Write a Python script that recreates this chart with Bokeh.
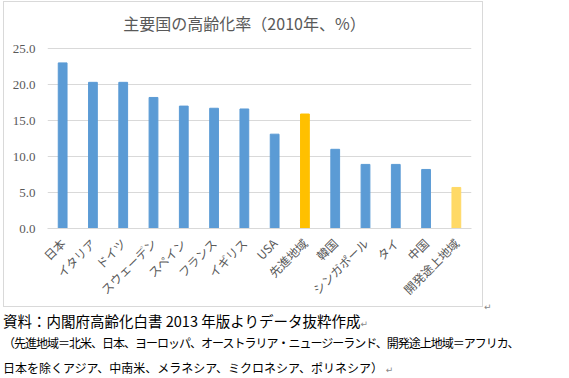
import math
from bokeh.plotting import figure
from bokeh.layouts import column
from bokeh.models import ColumnDataSource, FactorRange, Range1d, FixedTicker, NumeralTickFormatter, Label, Div
from bokeh.embed import file_html
from bokeh.resources import INLINE

categories = ["日本", "イタリア", "ドイツ", "スウェーデン", "スペイン", "フランス", "イギリス",
              "USA", "先進地域", "韓国", "シンガポール", "タイ", "中国", "開発途上地域"]
values = [23.0, 20.3, 20.3, 18.2, 17.0, 16.7, 16.6, 13.1, 15.9, 11.0, 8.9, 8.9, 8.2, 5.7]
colors = ["#5B9BD5"] * 8 + ["#FFC000"] + ["#5B9BD5"] * 4 + ["#FFD966"]
y_ticks = [0, 5, 10, 15, 20, 25]
title_text = "主要国の高齢化率（2010年、%）"
note1 = "資料：内閣府高齢化白書 2013 年版よりデータ抜粋作成"
note2 = "（先進地域＝北米、日本、ヨーロッパ、オーストラリア・ニュージーランド、開発途上地域＝アフリカ、"
note3 = "日本を除くアジア、中南米、メラネシア、ミクロネシア、ポリネシア）"

src = ColumnDataSource(dict(cat=categories, val=values, color=colors))

# ---- chart (framed box 3..483 x 1..307 on the page) ----
CH = 306
BOTTOM = 80
frame_h = CH - BOTTOM            # frame spans the whole top part; 25 units = 180 px
y_end = 25 * frame_h / 180.0
p = figure(width=480, height=CH, output_backend="svg", toolbar_location=None,
           x_range=FactorRange(*categories, range_padding=0), y_range=Range1d(0, y_end),
           min_border_left=43, min_border_right=13, min_border_top=0, min_border_bottom=BOTTOM,
           styles={"border": "1px solid #D9D9D9"})
p.margin = (1, 0, 0, 3)
p.outline_line_color = None
p.background_fill_color = "white"
p.border_fill_color = "white"

p.vbar(x="cat", top="val", width=0.29, color="color", source=src)

p.xgrid.grid_line_color = None
p.ygrid.grid_line_color = "#D9D9D9"
p.ygrid.ticker = FixedTicker(ticks=y_ticks)

p.yaxis.ticker = FixedTicker(ticks=y_ticks)
p.yaxis.formatter = NumeralTickFormatter(format="0.0")
p.yaxis.axis_line_color = None
p.yaxis.major_tick_line_color = None
p.yaxis.minor_tick_line_color = None
p.yaxis.major_label_text_font = "Liberation Serif"
p.yaxis.major_label_text_font_size = "13px"
p.yaxis.major_label_text_color = "#595959"
p.yaxis.major_label_standoff = 6

p.xaxis.axis_line_color = "#D9D9D9"
p.xaxis.major_tick_line_color = None
p.xaxis.minor_tick_line_color = None
p.xaxis.major_label_orientation = math.pi / 4
p.xaxis.major_label_text_font = "Noto Sans CJK JP"
p.xaxis.major_label_text_font_size = "12px"
p.xaxis.major_label_text_color = "#595959"
p.xaxis.major_label_standoff = 6

p.add_layout(Label(x=239, y=19, x_units="canvas", y_units="canvas", text=title_text,
                   text_font="Noto Sans CJK JP", text_font_size="16px", text_color="#595959",
                   text_align="center", text_baseline="middle"))

# ---- notes below the chart ----
def line(left, top, size, lh, text, color="black", font="'Noto Sans CJK JP'", extra=""):
    return (f'<div style="position:absolute;left:{left}px;top:{top}px;font-family:{font};'
            f'font-size:{size}px;line-height:{lh}px;color:{color};white-space:nowrap;margin:0;padding:0;{extra}">'
            f'{text}</div>')

mark = '<span style="font-family:\'DejaVu Sans\';font-size:9px;color:#888888;letter-spacing:0">{}↵</span>'
html = ('<div style="position:relative;width:569px;height:69px;margin:0;padding:0">'
        + line(484, -6, 9, 12, "↵", "#888888", "'DejaVu Sans'")
        + line(3, 5, 14.5, 18, note1 + mark.format(""))
        + line(3, 29, 12, 14, note2, extra="letter-spacing:-1px")
        + line(3, 54, 12, 14, note3 + mark.format(" "))
        + '</div>')
notes = Div(text=html, width=569, height=69)
notes.margin = (0, 0, 0, 0)

layout = column(p, notes, spacing=0)
open("out.html", "w").write(file_html(layout, INLINE))
